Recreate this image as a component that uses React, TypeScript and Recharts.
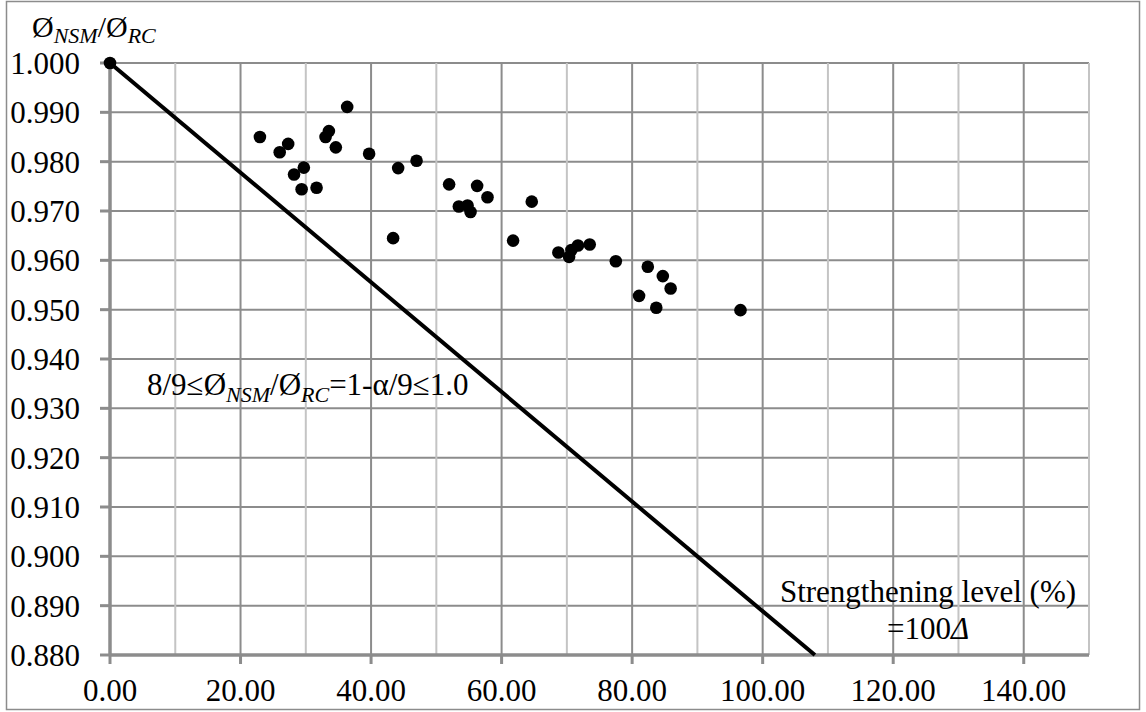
import React from 'react';
import { ScatterChart, Scatter, XAxis, YAxis, CartesianGrid, ReferenceLine } from 'recharts';

// strengthening level (%)
const levelValues = [
  0, 22.97, 27.3, 26.0, 36.34, 33.54, 33.03, 34.6, 39.7, 44.15, 29.7, 28.2, 29.36, 31.65,
  46.97, 51.96, 56.25, 57.84, 53.45, 54.78, 55.24, 64.62, 61.76, 43.38, 68.7, 70.34, 70.7,
  71.7, 73.5, 77.5, 82.4, 84.7, 85.9, 81.06, 83.7, 96.6,
];
// ratio Ø_NSM / Ø_RC
const ratioValues = [
  1.0, 0.985, 0.9836, 0.9819, 0.9911, 0.9862, 0.985, 0.9829, 0.9816, 0.9787, 0.9788, 0.9774,
  0.9744, 0.9747, 0.9802, 0.9754, 0.9751, 0.9728, 0.9709, 0.9711, 0.9698, 0.9719, 0.964,
  0.9645, 0.9616, 0.9607, 0.9621, 0.963, 0.9632, 0.9598, 0.9587, 0.9568, 0.9543, 0.9528,
  0.9504, 0.9499,
];
// lower bound line 1 - α/9, two end points
const boundX = [0, 108];
const boundY = [1.0, 0.88];

const xTicks = [0, 20, 40, 60, 80, 100, 120, 140];
const xMinorTicks = [10, 30, 50, 70, 90, 110, 130, 150];
const yTicks = [0.88, 0.89, 0.9, 0.91, 0.92, 0.93, 0.94, 0.95, 0.96, 0.97, 0.98, 0.99, 1.0];

const points = levelValues.map((x, i) => ({ x, y: ratioValues[i] }));
const boundLine = boundX.map((x, i) => ({ x, y: boundY[i] }));

const FONT = 'Liberation Serif, serif';
const AXIS_GRAY = '#8c8c8c';

const Dot = (props: any) => <circle cx={props.cx} cy={props.cy} r={6.3} fill="#000" />;

const App: React.FC = () => {
  return (
    <div
      style={{
        position: 'absolute',
        left: 0,
        top: 0,
        width: 1146,
        height: 712,
        background: '#fff',
        fontFamily: FONT,
      }}
    >
      <ScatterChart
        width={1146}
        height={712}
        margin={{ top: 63, right: 57, bottom: 7, left: 10 }}
        style={{ fontFamily: FONT }}
      >
        <CartesianGrid stroke={AXIS_GRAY} strokeWidth={2} />
        {xMinorTicks.map((v) => (
          <ReferenceLine key={v} x={v} stroke="#c4c4c4" strokeWidth={2} />
        ))}
        <XAxis
          type="number"
          dataKey="x"
          domain={[0, 150]}
          ticks={xTicks}
          tickFormatter={(v: number) => v.toFixed(2)}
          height={50}
          tickSize={9}
          tickMargin={15}
          axisLine={{ stroke: AXIS_GRAY, strokeWidth: 3.5 }}
          tickLine={{ stroke: AXIS_GRAY, strokeWidth: 3 }}
          tick={{ fill: '#000', fontSize: 31, style: { fontFamily: FONT } }}
        />
        <YAxis
          type="number"
          dataKey="y"
          domain={[0.88, 1.0]}
          ticks={yTicks}
          tickFormatter={(v: number) => v.toFixed(3)}
          width={100}
          tickSize={10}
          tickMargin={20}
          axisLine={{ stroke: AXIS_GRAY, strokeWidth: 3.5 }}
          tickLine={{ stroke: AXIS_GRAY, strokeWidth: 3 }}
          tick={{ fill: '#000', fontSize: 31, style: { fontFamily: FONT } }}
        />
        <Scatter
          data={boundLine}
          line={{ stroke: '#000', strokeWidth: 4 }}
          shape={() => <g />}
          isAnimationActive={false}
        />
        <Scatter data={points} shape={Dot} isAnimationActive={false} />
      </ScatterChart>

      {/* texts and the outer frame */}
      <svg
        width={1146}
        height={712}
        style={{ position: 'absolute', left: 0, top: 0, pointerEvents: 'none', fontFamily: FONT }}
      >
        <rect x={6.5} y={1.5} width={1133} height={708} fill="none" stroke={AXIS_GRAY} strokeWidth={1.5} />
        <text x={32} y={37} fontSize={30} fill="#000">
          Ø
          <tspan fontStyle="italic" fontSize={22} dy={6}>NSM</tspan>
          <tspan dy={-6}>/Ø</tspan>
          <tspan fontStyle="italic" fontSize={22} dy={6}>RC</tspan>
        </text>
        <text x={147} y={395} fontSize={31} fill="#000">
          8/9≤Ø
          <tspan fontStyle="italic" fontSize={22} dy={7}>NSM</tspan>
          <tspan dy={-7}>/Ø</tspan>
          <tspan fontStyle="italic" fontSize={22} dy={7}>RC</tspan>
          <tspan dy={-7}>=1-α/9≤1.0</tspan>
        </text>
        <text x={928} y={602} fontSize={31} fill="#000" textAnchor="middle">
          Strengthening level (%)
        </text>
        <text x={928} y={639} fontSize={31} fill="#000" textAnchor="middle">
          =100<tspan fontStyle="italic">Δ</tspan>
        </text>
      </svg>
    </div>
  );
};

export default App;
